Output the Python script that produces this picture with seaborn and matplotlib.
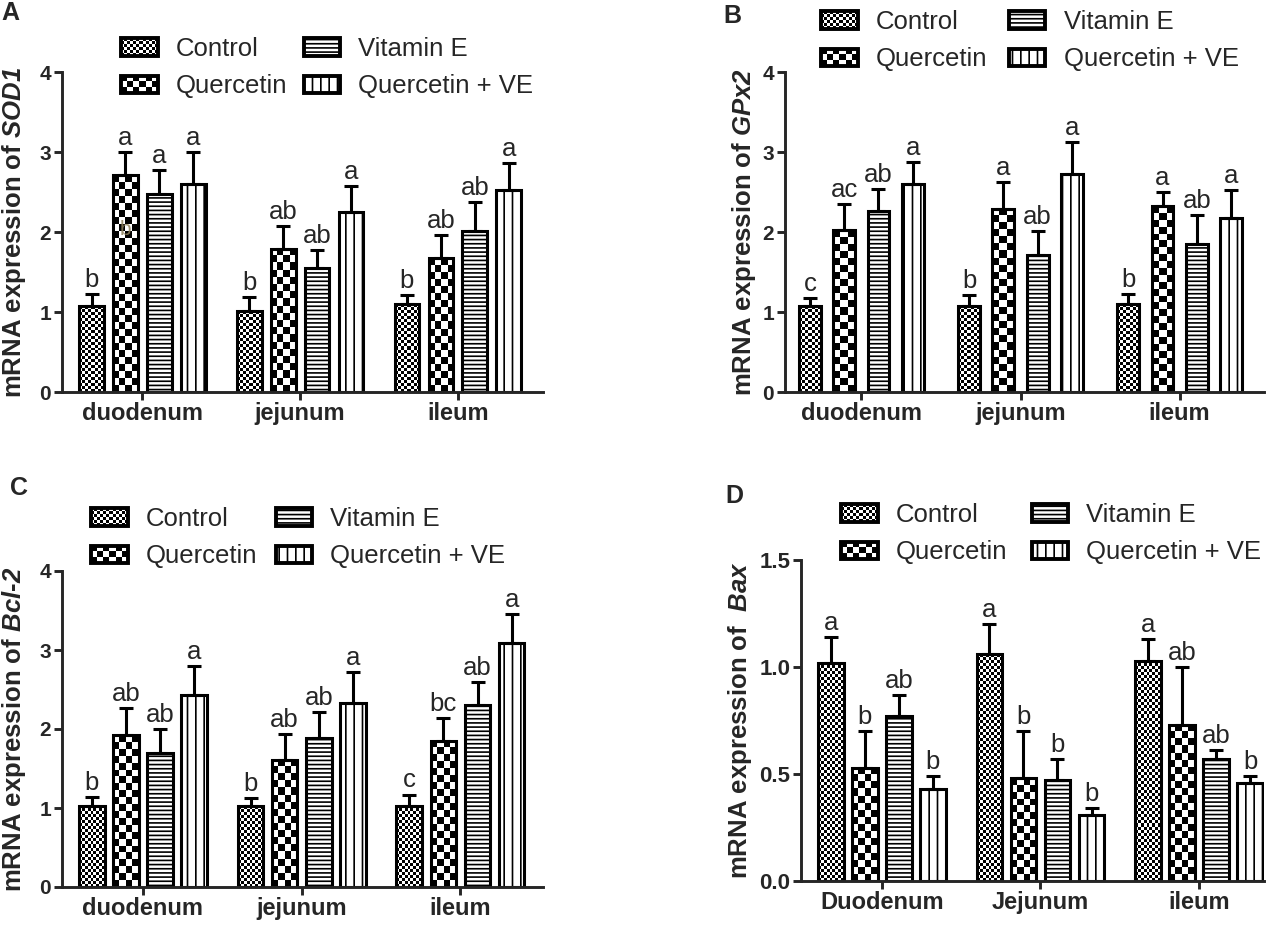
import numpy as np
import pandas as pd
import matplotlib
matplotlib.use("Agg")
import matplotlib.pyplot as plt
import seaborn as sns
from matplotlib.patches import Patch, Rectangle
from matplotlib.legend_handler import HandlerBase
from matplotlib.container import BarContainer

# ---- data (rows = tissue, columns = group) ----
groups = ["Control", "Quercetin", "Vitamin E", "Quercetin + VE"]
tissues_abc = ["duodenum", "jejunum", "ileum"]
tissues_d = ["Duodenum", "Jejunum", "ileum"]

sod1_mean = [[1.07, 2.71, 2.48, 2.60],
             [1.01, 1.79, 1.55, 2.25],
             [1.10, 1.67, 2.01, 2.52]]
sod1_err = [[0.16, 0.29, 0.30, 0.40],
            [0.18, 0.28, 0.22, 0.32],
            [0.11, 0.29, 0.37, 0.34]]
sod1_letters = [["b", "a", "a", "a"],
                ["b", "ab", "ab", "a"],
                ["b", "ab", "ab", "a"]]
# faint leftover letter inside the duodenum Quercetin bar of panel A
sod1_stray = (0, 1, "b", 2.03)

gpx2_mean = [[1.07, 2.02, 2.26, 2.60],
             [1.07, 2.29, 1.71, 2.72],
             [1.10, 2.32, 1.85, 2.17]]
gpx2_err = [[0.10, 0.33, 0.28, 0.27],
            [0.14, 0.34, 0.30, 0.41],
            [0.12, 0.18, 0.36, 0.36]]
gpx2_letters = [["c", "ac", "ab", "a"],
                ["b", "a", "ab", "a"],
                ["b", "a", "ab", "a"]]

bcl2_mean = [[1.03, 1.92, 1.70, 2.43],
             [1.02, 1.61, 1.88, 2.33],
             [1.03, 1.85, 2.30, 3.09]]
bcl2_err = [[0.11, 0.34, 0.30, 0.37],
            [0.11, 0.33, 0.33, 0.39],
            [0.14, 0.29, 0.30, 0.37]]
bcl2_letters = [["b", "ab", "ab", "a"],
                ["b", "ab", "ab", "a"],
                ["c", "bc", "ab", "a"]]

bax_mean = [[1.02, 0.53, 0.77, 0.43],
            [1.06, 0.48, 0.47, 0.31],
            [1.03, 0.73, 0.57, 0.46]]
bax_err = [[0.12, 0.17, 0.10, 0.06],
           [0.14, 0.22, 0.10, 0.03],
           [0.10, 0.27, 0.04, 0.03]]
bax_letters = [["a", "b", "ab", "b"],
               ["a", "b", "b", "b"],
               ["a", "ab", "ab", "b"]]

W, H = 1284, 925

sns.set_style("ticks")
plt.rcParams["font.family"] = ["Liberation Sans", "DejaVu Sans"]
plt.rcParams["mathtext.fontset"] = "custom"
plt.rcParams["mathtext.rm"] = "Liberation Sans:bold"
plt.rcParams["mathtext.bfit"] = "Liberation Sans:italic:bold"
plt.rcParams["axes.linewidth"] = 2.1
plt.rcParams["xtick.major.width"] = 2.1
plt.rcParams["ytick.major.width"] = 2.1
plt.rcParams["xtick.major.size"] = 5.8
plt.rcParams["ytick.major.size"] = 5.8
plt.rcParams["hatch.linewidth"] = 1.2

fig = plt.figure(figsize=(W / 100, H / 100), dpi=100)


class CheckerHandler(HandlerBase):
    # legend swatch with a checkerboard inside a thick frame
    def __init__(self, cell):
        super().__init__()
        self.cell = cell

    def create_artists(self, legend, orig_handle, xdescent, ydescent,
                       width, height, fontsize, trans):
        x0, y0 = -xdescent, -ydescent
        nx = max(1, round(width / self.cell))
        ny = max(1, round(height / self.cell))
        cw, ch = width / nx, height / ny
        arts = []
        for i in range(nx):
            for k in range(ny):
                if (i + k) % 2 == 0:
                    arts.append(Rectangle((x0 + i * cw, y0 + k * ch), cw, ch,
                                          facecolor="black", edgecolor="none",
                                          transform=trans))
        arts.append(Rectangle((x0, y0), width, height, facecolor="none",
                              edgecolor="black", linewidth=2.8, transform=trans))
        return arts


def checker_fill(ax, bar, cell_px):
    bb = bar.get_window_extent()
    nx = max(1, int(round(bb.width / cell_px)))
    ny = max(1, int(round(bb.height / cell_px)))
    board = np.indices((ny, nx)).sum(axis=0) % 2
    x0, y0 = bar.get_x(), bar.get_y()
    im = ax.imshow(board, extent=(x0, x0 + bar.get_width(), y0, y0 + bar.get_height()),
                   cmap="gray", vmin=0, vmax=1, aspect="auto",
                   interpolation="nearest", origin="lower", zorder=0.8)
    im.set_clip_path(bar)


def draw_panel(box, tissues, means, errs, letters, ylabel, ylim, yticks, yticklabels,
               xlim, gap, ytfs, label_x, legend_xy, colgap_px, letter, letter_xy,
               stray=None):
    left, top, right, bottom = box
    ax = fig.add_axes([left / W, 1 - bottom / H, (right - left) / W, (bottom - top) / H])

    rows = []
    for j, t in enumerate(tissues):
        for i, g in enumerate(groups):
            rows.append({"tissue": t, "group": g, "value": means[j][i]})
    df = pd.DataFrame(rows)

    sns.barplot(data=df, x="tissue", y="value", hue="group", order=tissues,
                hue_order=groups, palette=["white"] * 4, saturation=1,
                edgecolor="black", linewidth=2.2, width=0.86, gap=gap,
                errorbar=None, legend=False, ax=ax)
    ax.set_xlim(*xlim)
    ax.set_ylim(*ylim)

    bar_sets = [c for c in ax.containers if isinstance(c, BarContainer)]
    for i, cont in enumerate(bar_sets):
        for bar in cont.patches:
            xc = bar.get_x() + bar.get_width() / 2
            j = int(round(xc))
            if i == 0:
                bar.set_facecolor("none")
                checker_fill(ax, bar, 3.0)
            elif i == 1:
                bar.set_facecolor("none")
                checker_fill(ax, bar, 7.0)
            elif i == 2:
                bar.set_hatch("----")
            else:
                bar.set_hatch("||")
            h = bar.get_height()
            e = errs[j][i]
            ax.errorbar([xc], [h], yerr=[[0], [e]], fmt="none", ecolor="black",
                        elinewidth=2.2, capsize=4.8, capthick=2.2, zorder=3)
            ax.annotate(letters[j][i], (xc, h + e), xytext=(0, 1.5),
                        textcoords="offset points", ha="center", va="bottom",
                        fontsize=18.5, zorder=4)
            if stray is not None and stray[0] == j and stray[1] == i:
                ax.text(xc, stray[3], stray[2], ha="center", va="center",
                        fontsize=15, color="#8c7f5a", alpha=0.85, zorder=2)

    ax.set_xlim(*xlim)
    ax.set_ylim(*ylim)
    sns.despine(ax=ax)
    ax.set_xticks(range(len(tissues)), labels=tissues, fontsize=17, fontweight="bold")
    ax.set_yticks(yticks, labels=yticklabels, fontsize=ytfs, fontweight="bold")
    ax.tick_params(axis="x", pad=1.5)
    ax.tick_params(axis="y", pad=2)
    ax.set_xlabel("")
    ax.set_ylabel(ylabel, fontsize=18.5, fontweight="bold")
    ax.yaxis.set_label_coords((label_x - left) / (right - left), 0.5)

    handles = [Patch(facecolor="white", edgecolor="black", linewidth=2.8),
               Patch(facecolor="white", edgecolor="black", linewidth=2.8),
               Patch(facecolor="white", edgecolor="black", linewidth=2.8, hatch="----"),
               Patch(facecolor="white", edgecolor="black", linewidth=2.8, hatch="||")]
    fs = 18.5
    fig.legend(handles, groups, loc="upper left",
               bbox_to_anchor=(legend_xy[0] / W, 1 - legend_xy[1] / H),
               ncol=2, frameon=False, borderpad=0, borderaxespad=0, fontsize=fs,
               handlelength=26.6 / fs, handleheight=12.5 / fs, handletextpad=13 / fs,
               columnspacing=colgap_px * 0.72 / fs, labelspacing=0.52,
               handler_map={handles[0]: CheckerHandler(2.3),
                            handles[1]: CheckerHandler(4.8)})

    fig.text(letter_xy[0] / W, 1 - letter_xy[1] / H, letter, fontsize=18,
             fontweight="bold", ha="left", va="top")
    return ax


int_ticks = [0, 1, 2, 3, 4]
int_labels = ["0", "1", "2", "3", "4"]

draw_panel((62, 72, 543, 392), tissues_abc, sod1_mean, sod1_err, sod1_letters,
           r"mRNA expression of $\bfit{SOD1}$", (0, 4), int_ticks, int_labels,
           (-0.51, 2.54), 0.27, 15, 28, (121, 37), 16, "A", (1, 1), stray=sod1_stray)

draw_panel((785, 72, 1264, 392), tissues_abc, gpx2_mean, gpx2_err, gpx2_letters,
           r"mRNA expression of $\bfit{GPx2}$", (0, 4), int_ticks, int_labels,
           (-0.48, 2.53), 0.36, 15, 758, (821, 10), 21, "B", (723, 4))

draw_panel((62, 571, 543, 887), tissues_abc, bcl2_mean, bcl2_err, bcl2_letters,
           r"mRNA expression of $\bfit{Bcl}$-$\bfit{2}$", (0, 4), int_ticks, int_labels,
           (-0.51, 2.52), 0.25, 15, 28, (91, 507), 18, "C", (10, 476))

draw_panel((801, 560, 1264, 881), tissues_d, bax_mean, bax_err, bax_letters,
           r"mRNA expression of  $\bfit{Bax}$", (0, 1.5), [0, 0.5, 1.0, 1.5],
           ["0.0", "0.5", "1.0", "1.5"],
           (-0.51, 2.41), 0.25, 16, 754, (841, 503), 24, "D", (725, 484))

fig.savefig("out.png", dpi=100)
